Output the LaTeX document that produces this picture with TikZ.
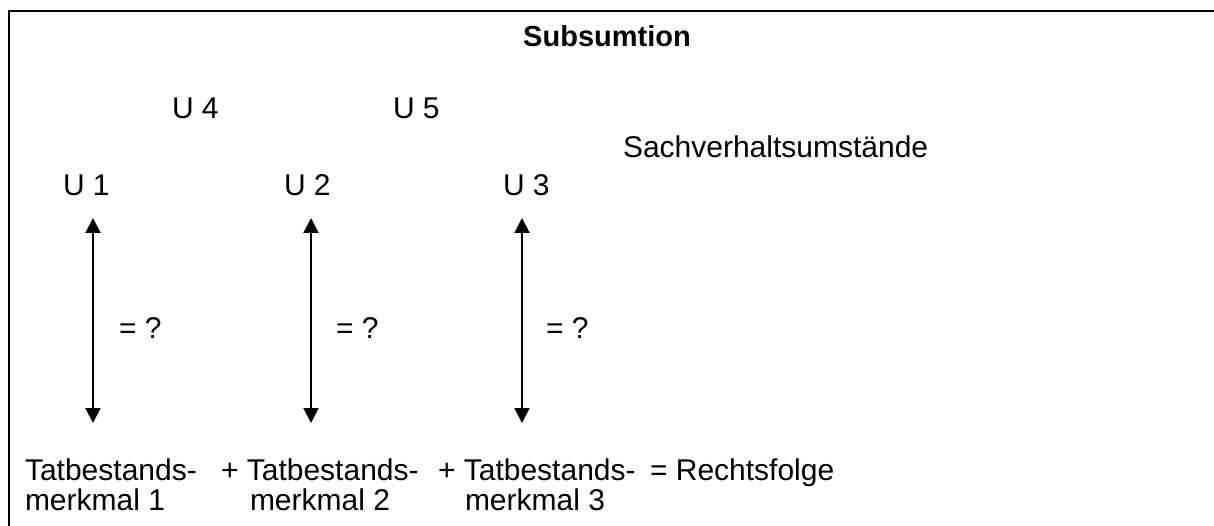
\documentclass[tikz,border=0pt]{standalone}
\usepackage{fontspec}
\setmainfont{Liberation Sans}
\usetikzlibrary{arrows.meta}
\tikzset{
  txt/.style={inner sep=0pt, outer sep=0pt, anchor=base west, font=\fontsize{30}{34}\selectfont},
  ttl/.style={inner sep=0pt, outer sep=0pt, anchor=base, font=\fontsize{29}{34}\selectfont\bfseries},
  frame/.style={line width=2.7pt, line cap=rect},
  dblarrow/.style={line width=2pt, {Triangle[width=15pt,length=15pt]}-{Triangle[width=15pt,length=15pt]}},
}
\begin{document}
\begin{tikzpicture}[x=1pt,y=-1pt]
\useasboundingbox (0,0) rectangle (1214,526);
\coordinate (fbl) at (9,540);
\coordinate (ftl) at (9,11);
\coordinate (ftr) at (1230,11);
\draw[frame] (fbl) -- (ftl) -- (ftr);
\node[ttl] (title) at (607,47) {Subsumtion};
\node[txt] (u4) at (172,119) {U 4};
\node[txt] (u5) at (393,119) {U 5};
\node[txt] (sach) at (623,158) {Sachverhaltsumstände};
\node[txt] (u1) at (63,196) {U 1};
\node[txt] (u2) at (284,196) {U 2};
\node[txt] (u3) at (503,196) {U 3};
\coordinate (a1t) at (93,218);
\coordinate (a1b) at (93,423);
\coordinate (a2t) at (311,218);
\coordinate (a2b) at (311,423);
\coordinate (a3t) at (522,218);
\coordinate (a3b) at (522,423);
\draw[dblarrow] (a1t) -- (a1b);
\draw[dblarrow] (a2t) -- (a2b);
\draw[dblarrow] (a3t) -- (a3b);
\node[txt] (q1) at (119,338) {= ?};
\node[txt] (q2) at (336,338) {= ?};
\node[txt] (q3) at (546,338) {= ?};
\node[txt] (t1a) at (25,480) {Tatbestands-};
\node[txt] (t1b) at (25,510) {merkmal 1};
\node[txt] (p1) at (221,480) {+ Tatbestands-};
\node[txt] (t2b) at (250,510) {merkmal 2};
\node[txt] (p2) at (438,480) {+ Tatbestands-};
\node[txt] (t3b) at (465,510) {merkmal 3};
\node[txt] (res) at (650,480) {= Rechtsfolge};
\end{tikzpicture}
\end{document}
